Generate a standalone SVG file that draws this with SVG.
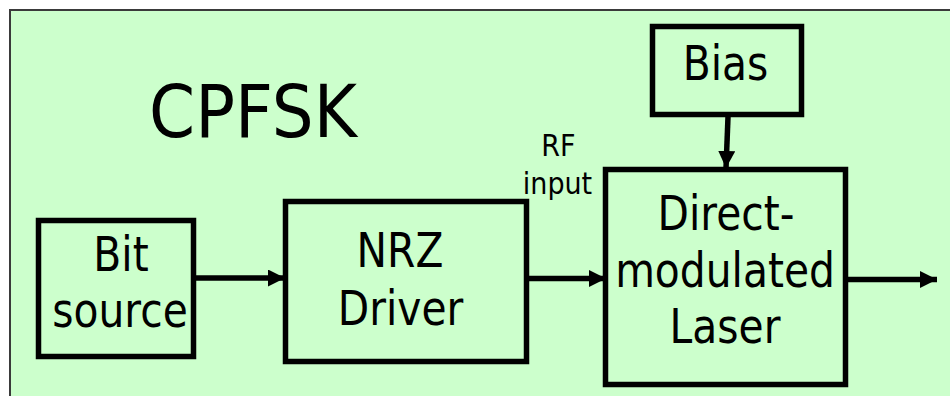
<svg xmlns="http://www.w3.org/2000/svg" width="950" height="396" viewBox="0 0 950 396">
<style>
.box{fill:none;stroke:#000;stroke-width:5.5}
.t{font-family:"DejaVu Sans",Verdana,sans-serif;font-size:48px;fill:#000;text-anchor:middle}
.s{font-family:"DejaVu Sans",Verdana,sans-serif;font-size:30px;fill:#000;text-anchor:middle}
.c{stroke:#000;stroke-width:5.5;fill:none;marker-end:url(#ah)}
</style>
<defs>
<marker id="ah" markerUnits="userSpaceOnUse" markerWidth="18" markerHeight="18" refX="17" refY="8.5" orient="auto">
<path d="M0,0 L17,8.5 L0,17 z" fill="#000"/>
</marker>
</defs>
<rect x="0" y="0" width="950" height="396" fill="#fff"/>
<rect x="10" y="10" width="960" height="400" fill="#CCFFCC" stroke="#3a3a3a" stroke-width="2"/>
<text class="t" transform="translate(253,137) scale(1,1.1)" style="font-size:66px">CPFSK</text>
<g id="bit-source">
<rect class="box" x="38.5" y="220.5" width="155" height="136"/>
<text class="t" transform="translate(121,271) scale(0.85,1)">Bit</text>
<text class="t" transform="translate(120,327) scale(0.85,1)">source</text>
</g>
<g id="nrz-driver">
<rect class="box" x="285.5" y="201.5" width="241" height="160"/>
<text class="t" transform="translate(400,267) scale(0.85,1)">NRZ</text>
<text class="t" transform="translate(400.5,325) scale(0.85,1)">Driver</text>
</g>
<g id="bias">
<rect class="box" x="652.5" y="26.5" width="149" height="88"/>
<text class="t" transform="translate(725.5,80) scale(0.85,1)">Bias</text>
</g>
<g id="laser">
<rect class="box" x="605.5" y="169.5" width="240" height="215"/>
<text class="t" transform="translate(726,230) scale(0.85,1)">Direct-</text>
<text class="t" transform="translate(725,287) scale(0.85,1)">modulated</text>
<text class="t" transform="translate(725,343) scale(0.85,1)">Laser</text>
</g>
<g id="rf-label">
<text class="s" transform="translate(558.5,156) scale(0.9,1)">RF</text>
<text class="s" transform="translate(557.5,194) scale(0.9,1)">input</text>
</g>
<g id="connectors">
<line class="c" x1="196" y1="278" x2="285" y2="278"/>
<line class="c" x1="529" y1="278.5" x2="606" y2="278.5"/>
<line class="c" x1="728" y1="117" x2="726" y2="168"/>
<line class="c" x1="848" y1="279.5" x2="937" y2="279.5"/>
</g>
</svg>
